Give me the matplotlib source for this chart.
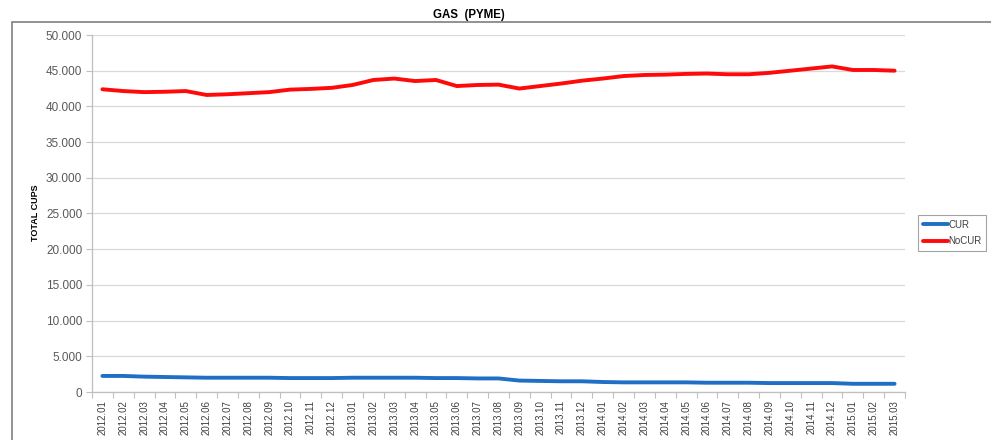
import matplotlib
matplotlib.use("Agg")
import matplotlib.pyplot as plt
from matplotlib.patches import Rectangle
from matplotlib.ticker import FuncFormatter, FixedLocator
import numpy as np

months = [
    "2012.01", "2012.02", "2012.03", "2012.04", "2012.05", "2012.06", "2012.07",
    "2012.08", "2012.09", "2012.10", "2012.11", "2012.12", "2013.01", "2013.02",
    "2013.03", "2013.04", "2013.05", "2013.06", "2013.07", "2013.08", "2013.09",
    "2013.10", "2013.11", "2013.12", "2014.01", "2014.02", "2014.03", "2014.04",
    "2014.05", "2014.06", "2014.07", "2014.08", "2014.09", "2014.10", "2014.11",
    "2014.12", "2015.01", "2015.02", "2015.03",
]

cur = [
    2250, 2250, 2150, 2100, 2050, 2000, 2000, 2000, 2000, 1950, 1950, 1950,
    2000, 2000, 2000, 2000, 1950, 1950, 1900, 1900, 1600, 1550, 1500, 1500,
    1400, 1350, 1350, 1350, 1350, 1300, 1300, 1300, 1250, 1250, 1250, 1250,
    1150, 1150, 1150,
]

nocur = [
    42400, 42150, 42000, 42050, 42150, 41600, 41700, 41850, 42000, 42350,
    42450, 42600, 43000, 43700, 43900, 43550, 43700, 42850, 43000, 43050,
    42500, 42850, 43200, 43600, 43900, 44250, 44400, 44450, 44550, 44600,
    44500, 44500, 44700, 45000, 45300, 45600, 45100, 45100, 45000,
]

series_names = ["CUR", "NoCUR"]
y_ticks = [0, 5000, 10000, 15000, 20000, 25000, 30000, 35000, 40000, 45000, 50000]

plt.rcParams["font.family"] = ["Liberation Sans", "DejaVu Sans"]

fig = plt.figure(figsize=(9.91, 4.40), dpi=100)

# chart-area frame
frame = Rectangle((12 / 991, -0.01), 1.0, (440 - 22) / 440 + 0.01,
                  transform=fig.transFigure, fill=False,
                  edgecolor="#7f7f7f", linewidth=1.2, clip_on=False)
fig.patches.append(frame)

fig.text(469 / 991, 1 - 15 / 440, "GAS  (PYME)", ha="center", va="center",
         fontsize=8.3, fontweight="bold", color="black")

ax = fig.add_axes([92 / 991, 1 - 392 / 440, 813 / 991, 357 / 440])

x = np.arange(len(months))
ax.plot(x, cur, color="#1f6fc4", linewidth=2.8, label=series_names[0],
        solid_capstyle="round", solid_joinstyle="round")
ax.plot(x, nocur, color="#ff0a0a", linewidth=2.8, label=series_names[1],
        solid_capstyle="round", solid_joinstyle="round")

ax.set_xlim(-0.5, len(months) - 0.5)
ax.set_ylim(0, 50000)

ax.set_yticks(y_ticks)
ax.yaxis.set_major_formatter(FuncFormatter(lambda v, p: f"{int(v):,}".replace(",", ".")))
ax.tick_params(axis="y", labelsize=8.5, labelcolor="#595959", color="#bfbfbf",
               length=4, width=0.8, pad=3)

ax.set_xticks(x)
ax.set_xticklabels(months, rotation=90, fontsize=7, color="#404040")
ax.tick_params(axis="x", which="major", length=0, pad=6)
ax.xaxis.set_minor_locator(FixedLocator(np.arange(-0.5, len(months), 1.0)))
ax.tick_params(axis="x", which="minor", length=4, width=0.8, color="#bfbfbf")

ax.grid(axis="y", color="#d9d9d9", linewidth=0.9)
ax.set_axisbelow(True)
for side in ("top", "right"):
    ax.spines[side].set_visible(False)
for side in ("left", "bottom"):
    ax.spines[side].set_color("#bfbfbf")
    ax.spines[side].set_linewidth(0.9)

fig.text(36 / 991, 1 - 213 / 440, "TOTAL CUPS", rotation=90, ha="center",
         va="center", fontsize=6.5, fontweight="bold", color="black")

leg = ax.legend(loc="center left", bbox_to_anchor=(918 / 991, 1 - 233 / 440),
                bbox_transform=fig.transFigure, fontsize=7, frameon=True,
                fancybox=False, edgecolor="#8c8c8c", handlelength=2.6,
                handletextpad=0.0, borderpad=0.5, labelspacing=0.7,
                borderaxespad=0)
leg.get_frame().set_linewidth(0.8)
for t in leg.get_texts():
    t.set_color("#404040")

fig.savefig("out.png", dpi=100)
